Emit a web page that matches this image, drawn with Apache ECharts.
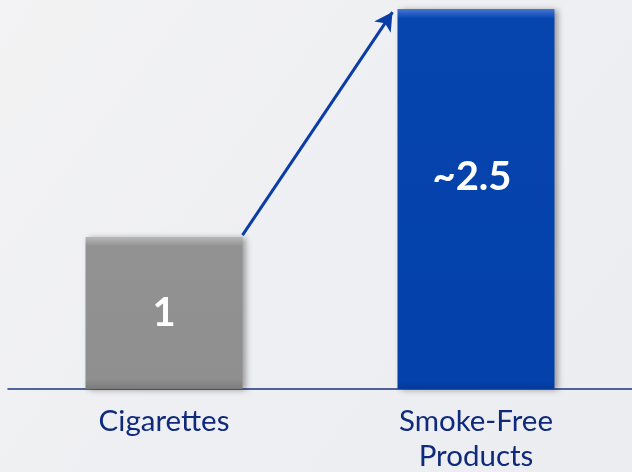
<!DOCTYPE html>
<html><head><meta charset="utf-8">
<script src="https://cdn.jsdelivr.net/npm/echarts@6/dist/echarts.min.js"></script>
<style>html,body{margin:0;padding:0;}#c{width:632px;height:472px;}</style>
</head><body><div id="c"></div>
<script>
const categories = ['Cigarettes', 'Smoke-Free\nProducts'];
const values = [1, 2.5];
const valueLabels = ['1', '~2.5'];

const chart = echarts.init(document.getElementById('c'));
const BW = 157;
const option = {
  backgroundColor: {
    type: 'linear', x: 0, y: 0, x2: 1, y2: 1,
    colorStops: [{offset: 0, color: '#f3f3f4'}, {offset: 0.5, color: '#eeeff2'}, {offset: 1, color: '#ecedf0'}]
  },
  grid: {left: 8, right: 0, top: 0, bottom: 83, outerBoundsMode: 'none', containLabel: false},
  xAxis: {
    type: 'category', data: categories,
    axisLine: {lineStyle: {color: '#1c3380', width: 1.5}},
    axisTick: {show: false},
    axisLabel: {fontFamily: 'Lato', fontSize: 29.5, color: '#0f2a7c', lineHeight: 35, margin: 15}
  },
  yAxis: {type: 'value', min: 0, max: 2.56, show: false, splitLine: {show: false}},
  series: [{
    type: 'bar', barWidth: BW,
    data: values.map((v, i) => ({
      value: v,
      itemStyle: {
        color: {
          type: 'linear', x: 0, y: 0, x2: 0, y2: 1, global: false,
          colorStops: i === 0 ? [
            {offset: 0, color: '#b8b8b8'}, {offset: 0.06, color: '#929292'}, {offset: 0.94, color: '#8f8f8f'}, {offset: 1, color: '#7a7a7a'}
          ] : [
            {offset: 0, color: '#4676d4'}, {offset: 0.025, color: '#0644ae'}, {offset: 0.98, color: '#0441aa'}, {offset: 1, color: '#033a98'}
          ]
        },
        shadowColor: 'rgba(0,0,0,0.35)', shadowBlur: 6, shadowOffsetX: 3, shadowOffsetY: 1
      },
      label: {
        show: true, position: 'inside', formatter: valueLabels[i],
        offset: i === 0 ? [0, 0] : [-4, -22],
        color: '#ffffff', fontFamily: 'Lato', fontWeight: 'bold', fontSize: 40
      }
    })),
    markLine: {silent: true, data: []}
  }]
};
chart.setOption(option);

const p0 = chart.convertToPixel({seriesIndex: 0}, [0, values[0]]);
const p1 = chart.convertToPixel({seriesIndex: 0}, [1, values[1]]);
chart.setOption({
  series: [{
    markLine: {
      silent: true, symbol: ['none', 'arrow'], symbolSize: [15, 18],
      lineStyle: {color: '#0a3ea6', width: 3, type: 'solid'},
      label: {show: false},
      data: [[{x: p0[0] + BW / 2, y: p0[1] - 2}, {x: p1[0] - BW / 2 - 5, y: p1[1] + 3}]]
    }
  }]
});
</script></body></html>
